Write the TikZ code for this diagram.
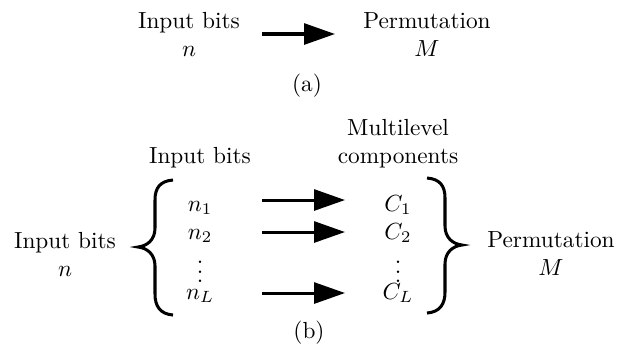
\documentclass[tikz,border=0pt]{standalone}
\usetikzlibrary{arrows.meta}
\begin{document}
\begin{tikzpicture}[x=0.4292pt,y=-0.4292pt,
  lbl/.style={align=center,inner sep=0pt,anchor=base},
  conn/.style={line width=1.3pt,-{Triangle[length=13.3pt,width=9pt]}},
  brc/.style={line width=1.3pt}]
\useasboundingbox (0,0) rectangle (618,343);
% (a)
\node[lbl] (inA) at (189,56.5) {Input bits\\$n$};
\node[lbl] (permA) at (427,56.5) {Permutation\\$M$};
\node[lbl] (capA) at (307,91) {(a)};
\coordinate (aS) at (262,34);
\coordinate (aE) at (335,34);
\draw[conn] (aS) -- (aE);
% (b)
\node[lbl] (multi) at (398,163) {Multilevel\\components};
\node[lbl] (inB) at (200,163) {Input bits};
\node[lbl] (inL) at (65,276) {Input bits\\$n$};
\node[lbl] (permB) at (551,275) {Permutation\\$M$};
\node[lbl] (n1) at (200,211) {$n_1$};
\node[lbl] (n2) at (200,239) {$n_2$};
\node[inner sep=0pt] (nd) at (200,265) {$\vdots$};
\node[lbl] (nL) at (200,299) {$n_L$};
\node[lbl] (c1) at (398,211) {$C_1$};
\node[lbl] (c2) at (398,239) {$C_2$};
\node[inner sep=0pt] (cd) at (398,265) {$\vdots$};
\node[lbl] (cL) at (398,299) {$C_L$};
\node[lbl] (capB) at (309,338) {(b)};
\coordinate (b1S) at (262,200);
\coordinate (b1E) at (345,200);
\coordinate (b2S) at (262,232);
\coordinate (b2E) at (345,232);
\coordinate (b3S) at (262,293);
\coordinate (b3E) at (345,293);
\draw[conn] (b1S) -- (b1E);
\draw[conn] (b2S) -- (b2E);
\draw[conn] (b3S) -- (b3E);
% braces
\draw[brc] (173,180) .. controls (160,181) and (155,188) .. (155,200) -- (155,228)
  .. controls (155,240) and (147,246) .. (138,247)
  .. controls (147,248) and (155,254) .. (155,266) -- (155,294)
  .. controls (155,306) and (160,314) .. (173,315);
\draw[brc] (427,178) .. controls (440,179) and (445,186) .. (445,198) -- (445,226)
  .. controls (445,238) and (453,244) .. (462,245)
  .. controls (453,246) and (445,252) .. (445,264) -- (445,292)
  .. controls (445,304) and (440,312) .. (427,313);
\end{tikzpicture}
\end{document}
